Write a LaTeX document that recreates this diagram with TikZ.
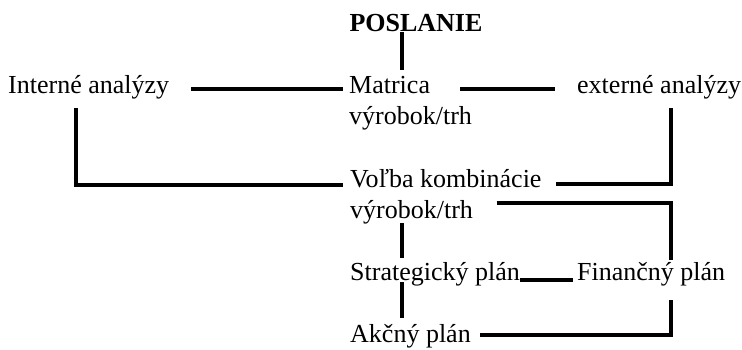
\documentclass[tikz,border=0pt]{standalone}
\usepackage{fontspec}
\setmainfont{Liberation Serif}
\usetikzlibrary{positioning}
\tikzset{
    lbl/.style = {inner sep=0pt, anchor=base west, align=left, font=\fontsize{26}{31}\selectfont},
    conn/.style = {line width=4.5pt}
}

\begin{document}
\begin{tikzpicture}[x=1pt, y=-1pt]
    \useasboundingbox (0,0) rectangle (742,349);

    % text boxes (base of a two-line box is its last line)
    \node [lbl, anchor=base, font=\fontsize{26}{31}\selectfont\bfseries] (poslanie) at (416, 31) {POSLANIE};
    \node [lbl] (interne) at (8, 93) {Interné analýzy};
    \node [lbl] (matrica) at (349, 124) {Matrica\\výrobok/trh};
    \node [lbl] (externe) at (577, 93) {externé analýzy};
    \node [lbl] (volba) at (350, 218) {Voľba kombinácie\\výrobok/trh};
    \node [lbl] (strat) at (350, 280) {Strategický plán};
    \node [lbl] (fin) at (577, 280) {Finančný plán};
    \node [lbl] (akcny) at (350, 342) {Akčný plán};

    % connectors
    \draw [conn] ([xshift=-14pt, yshift=-1pt]poslanie.base) to ([xshift=53pt, yshift=54pt]matrica.base west);
    \draw [conn] ([xshift=22pt, yshift=4pt]interne.base east) to ([xshift=-6pt, yshift=35pt]matrica.base west);
    \draw [conn] ([xshift=-117pt, yshift=4pt]externe.base west) to ([xshift=-22pt, yshift=4pt]externe.base west);
    \draw [conn] ([xshift=68pt, yshift=-15pt]interne.base west) |- ([xshift=-7pt, yshift=33pt]volba.base west);
    \draw [conn] ([xshift=94pt, yshift=-15pt]externe.base west) |- ([xshift=14pt, yshift=34pt]volba.base east);
    \draw [conn] ([xshift=-45pt, yshift=15pt]volba.base east) -| ([xshift=94pt, yshift=20pt]fin.base west);
    \draw [conn] ([xshift=52pt, yshift=-5pt]volba.base west) to ([xshift=52pt, yshift=22pt]strat.base west);
    \draw [conn] (strat.base east) to ([xshift=-4pt]fin.base west);
    \draw [conn] ([xshift=52pt, yshift=-2pt]strat.base west) to ([xshift=52pt, yshift=24pt]akcny.base west);
    \draw [conn] ([xshift=94pt, yshift=-20pt]fin.base west) |- ([xshift=9pt, yshift=7pt]akcny.base east);
\end{tikzpicture}
\end{document}
